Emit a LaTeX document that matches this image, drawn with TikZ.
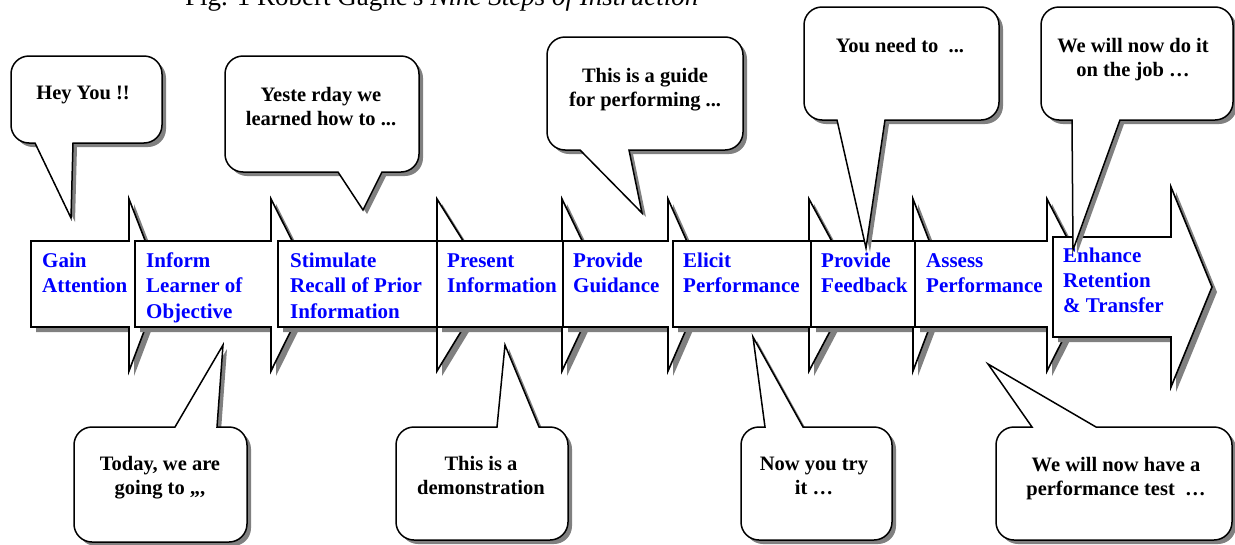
\documentclass[tikz,border=0pt]{standalone}
\usepackage{fontspec}
\setmainfont{Liberation Serif}
\definecolor{shadowgray}{RGB}{128,128,128}
\definecolor{stepblue}{RGB}{0,0,255}
\newcommand\crad{18}
% top callout: tail on bottom edge. #1 style, #2 L, #3 T, #4 R, #5 B, #6 bL, #7 tx, #8 ty, #9 bR
\newcommand\callT[9]{%
  \path[#1] (#9,#5) -- ({#4-\crad},#5) arc[start angle=90,end angle=0,radius=\crad]
    -- (#4,{#3+\crad}) arc[start angle=0,end angle=-90,radius=\crad]
    -- ({#2+\crad},#3) arc[start angle=-90,end angle=-180,radius=\crad]
    -- (#2,{#5-\crad}) arc[start angle=180,end angle=90,radius=\crad]
    -- (#6,#5) -- (#7,#8) -- cycle;}
% bottom callout: tail on top edge
\newcommand\callB[9]{%
  \path[#1] (#6,#3) -- (#7,#8) -- (#9,#3) -- ({#4-\crad},#3) arc[start angle=-90,end angle=0,radius=\crad]
    -- (#4,{#5-\crad}) arc[start angle=0,end angle=90,radius=\crad]
    -- ({#2+\crad},#5) arc[start angle=90,end angle=180,radius=\crad]
    -- (#2,{#3+\crad}) arc[start angle=180,end angle=270,radius=\crad] -- cycle;}
% step arrow: #1 style, #2 xL, #3 xN, #4 head length
\newcommand\steparrow[4]{%
  \path[#1] (#2,241) -- (#3,241) -- (#3,199) -- ({#3+#4},284) -- (#3,371) -- (#3,327) -- (#2,327) -- cycle;}
\begin{document}
\begin{tikzpicture}[x=1pt,y=-1pt,line join=miter,
  ashadow/.style={fill=shadowgray,shift={(5,5)}},
  abox/.style={draw=black,fill=white,line width=1.6pt},
  cshadow/.style={fill=shadowgray,shift={(4,4)}},
  cbox/.style={draw=black,fill=white,line width=1.5pt},
  steptext/.style={anchor=base west,inner sep=0pt,align=left,text=stepblue,
    font=\fontsize{21}{25.5}\selectfont\bfseries},
  calltext/.style={anchor=base,inner sep=0pt,align=center,text=black,
    font=\fontsize{20.5}{24.5}\selectfont\bfseries}]
\useasboundingbox (0,0) rectangle (1235,544);
\fill[white] (0,0) rectangle (1235,544);

% caption (cut off at the top, as in the reference)
\node[anchor=base west,inner sep=0pt,font=\fontsize{27}{27}\selectfont] (caption) at (185,5)
  {Fig. 1 Robert Gagne\textit{'s Nine Steps of Instruction}};

% step arrows
\steparrow{ashadow}{31}{129}{33}\steparrow{abox}{31}{129}{33}
\steparrow{ashadow}{135}{271}{43}\steparrow{abox}{135}{271}{43}
\steparrow{ashadow}{278}{437}{53}\steparrow{abox}{278}{437}{53}
\steparrow{ashadow}{437}{562}{41}\steparrow{abox}{437}{562}{41}
\steparrow{ashadow}{563}{668}{38}\steparrow{abox}{563}{668}{38}
\steparrow{ashadow}{673}{809}{46}\steparrow{abox}{673}{809}{46}
\steparrow{ashadow}{811}{913}{33}\steparrow{abox}{811}{913}{33}
\steparrow{ashadow}{915}{1047}{44}\steparrow{abox}{915}{1047}{44}
\path[ashadow] (1053,237) -- (1171,237) -- (1171,187) -- (1212,287) -- (1171,387) -- (1171,337) -- (1053,337) -- cycle;
\path[abox] (1053,237) -- (1171,237) -- (1171,187) -- (1212,287) -- (1171,387) -- (1171,337) -- (1053,337) -- cycle;

% step labels (anchor = baseline of last line)
\node[steptext] (s1) at (42,292.5) {Gain\\Attention};
\node[steptext] (s2) at (146,318) {Inform\\Learner of\\Objective};
\node[steptext] (s3) at (290,318) {Stimulate\\Recall of Prior\\Information};
\node[steptext] (s4) at (447,292.5) {Present\\Information};
\node[steptext] (s5) at (573,292.5) {Provide\\Guidance};
\node[steptext] (s6) at (683,292.5) {Elicit\\Performance};
\node[steptext] (s7) at (821,292.5) {Provide\\Feedback};
\node[steptext] (s8) at (926,292.5) {Assess\\Performance};
\node[steptext,font=\fontsize{21}{25}\selectfont\bfseries] (s9) at (1063,312) {Enhance\\Retention\\\& Transfer};

% callouts above
\callT{cshadow}{11}{56}{162}{143}{35}{71}{218}{73}\callT{cbox}{11}{56}{162}{143}{35}{71}{218}{73}
\callT{cshadow}{225}{56}{419}{172}{338}{363}{210}{382}\callT{cbox}{225}{56}{419}{172}{338}{363}{210}{382}
\callT{cshadow}{547}{37}{743}{150}{580}{642}{213}{629}\callT{cbox}{547}{37}{743}{150}{580}{642}{213}{629}
\callT{cshadow}{804}{7}{999}{120}{837}{866}{248}{885}\callT{cbox}{804}{7}{999}{120}{837}{866}{248}{885}
\callT{cshadow}{1041}{7}{1233}{120}{1072}{1073}{250}{1120}\callT{cbox}{1041}{7}{1233}{120}{1072}{1073}{250}{1120}
% callouts below
\callB{cshadow}{74}{427}{247}{542}{175}{223}{345}{217}\callB{cbox}{74}{427}{247}{542}{175}{223}{345}{217}
\callB{cshadow}{396}{427}{568}{540}{497}{505}{345}{539}\callB{cbox}{396}{427}{568}{540}{497}{505}{345}{539}
\callB{cshadow}{741}{427}{892}{540}{765}{753}{337}{803}\callB{cbox}{741}{427}{892}{540}{765}{753}{337}{803}
\callB{cshadow}{996}{427}{1232}{540}{1032}{988}{364}{1096}\callB{cbox}{996}{427}{1232}{540}{1032}{988}{364}{1096}

% callout texts (anchor = baseline of last line)
\node[calltext] (c1) at (83,99) {Hey You !!};
\node[calltext] (c2) at (321,125.5) {Yeste rday we\\learned how to ...};
\node[calltext] (c3) at (645,106.5) {This is a guide\\for performing ...};
\node[calltext] (c4) at (900,52) {You need to\ \ ...};
\node[calltext] (c5) at (1133,76.5) {We will now do it\\on the job …};
\node[calltext] (c6) at (160,494.5) {Today, we are\\going to ,,,};
\node[calltext] (c7) at (481,494.5) {This is a\\demonstration};
\node[calltext] (c8) at (814,494.5) {Now you try\\it …};
\node[calltext] (c9) at (1116,495.5) {We will now have a\\performance test\ \ …};
\end{tikzpicture}
\end{document}
